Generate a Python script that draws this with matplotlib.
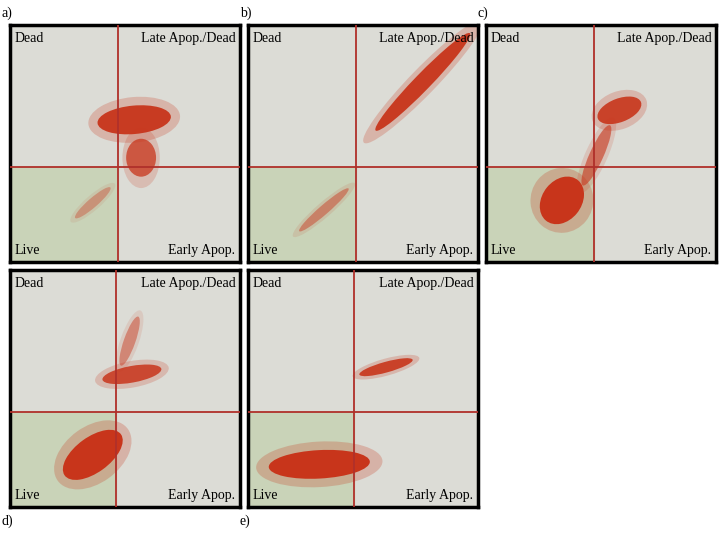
import matplotlib
matplotlib.use("Agg")
import matplotlib.pyplot as plt
from matplotlib.patches import Ellipse, Rectangle

W, H = 724, 539

# panel letters and boxes (left, top) in pixels, size 230x237
panel_names = ["a)", "b)", "c)", "d)", "e)"]
panel_left = [10, 248, 486, 10, 248]
panel_top = [25, 25, 25, 270, 270]
label_below = [False, False, False, True, True]

# quadrant gate position (fraction of axis)
gate_x = [0.47, 0.47, 0.47, 0.46, 0.46]
gate_y = [0.40, 0.40, 0.40, 0.40, 0.40]

# clusters per panel: (x, y, width, height, angle, alpha)
clusters = [
    [(0.54, 0.60, 0.32, 0.12, 5, 0.95), (0.57, 0.44, 0.13, 0.16, 0, 0.75),
     (0.36, 0.25, 0.20, 0.04, 40, 0.35)],
    [(0.76, 0.76, 0.58, 0.07, 45, 0.95), (0.33, 0.22, 0.28, 0.04, 40, 0.45)],
    [(0.33, 0.26, 0.22, 0.17, 50, 1.0), (0.58, 0.64, 0.20, 0.10, 20, 0.9),
     (0.48, 0.45, 0.28, 0.06, 65, 0.6)],
    [(0.36, 0.22, 0.30, 0.15, 35, 1.0), (0.53, 0.56, 0.26, 0.07, 10, 0.85),
     (0.52, 0.70, 0.22, 0.05, 70, 0.45)],
    [(0.31, 0.18, 0.44, 0.12, 3, 1.0), (0.60, 0.59, 0.24, 0.045, 15, 0.9)],
]

quad_labels = ["Dead", "Late Apop./Dead", "Live", "Early Apop."]
serif = ["Liberation Serif", "DejaVu Serif"]
red = "#c8351b"

fig = plt.figure(figsize=(W / 100, H / 100), dpi=100)
fig.patch.set_facecolor("white")

for i, name in enumerate(panel_names):
    l, t = panel_left[i], panel_top[i]
    ax = fig.add_axes([l / W, 1 - (t + 237) / H, 230 / W, 237 / H])
    ax.set_xlim(0, 1)
    ax.set_ylim(0, 1)
    ax.set_facecolor("#dcdcd6")
    ax.add_patch(Rectangle((0, 0), gate_x[i], gate_y[i], color="#c9d3b8", zorder=0))
    for (cx, cy, w, h, ang, a) in clusters[i]:
        ax.add_patch(Ellipse((cx, cy), w * 1.25, h * 1.6, angle=ang,
                             color=red, alpha=a * 0.25, lw=0, zorder=1))
        ax.add_patch(Ellipse((cx, cy), w, h, angle=ang,
                             color=red, alpha=a, lw=0, zorder=2))
    ax.axvline(gate_x[i], color="#b0302a", lw=1.3, zorder=3)
    ax.axhline(gate_y[i], color="#b0302a", lw=1.3, zorder=3)
    ax.text(0.02, 0.97, quad_labels[0], va="top", fontsize=10, family=serif)
    ax.text(0.98, 0.97, quad_labels[1], va="top", ha="right", fontsize=10, family=serif)
    ax.text(0.02, 0.02, quad_labels[2], va="bottom", fontsize=10, family=serif)
    ax.text(0.98, 0.02, quad_labels[3], va="bottom", ha="right", fontsize=10, family=serif)
    ax.set_xticks([])
    ax.set_yticks([])
    for s in ax.spines.values():
        s.set_linewidth(2.5)
        s.set_color("black")
    ly = t + 237 + 14 if label_below[i] else t - 12
    fig.text((l - 8) / W, 1 - ly / H, name, va="center", fontsize=10, family=serif)

fig.savefig("out.png", dpi=100)
